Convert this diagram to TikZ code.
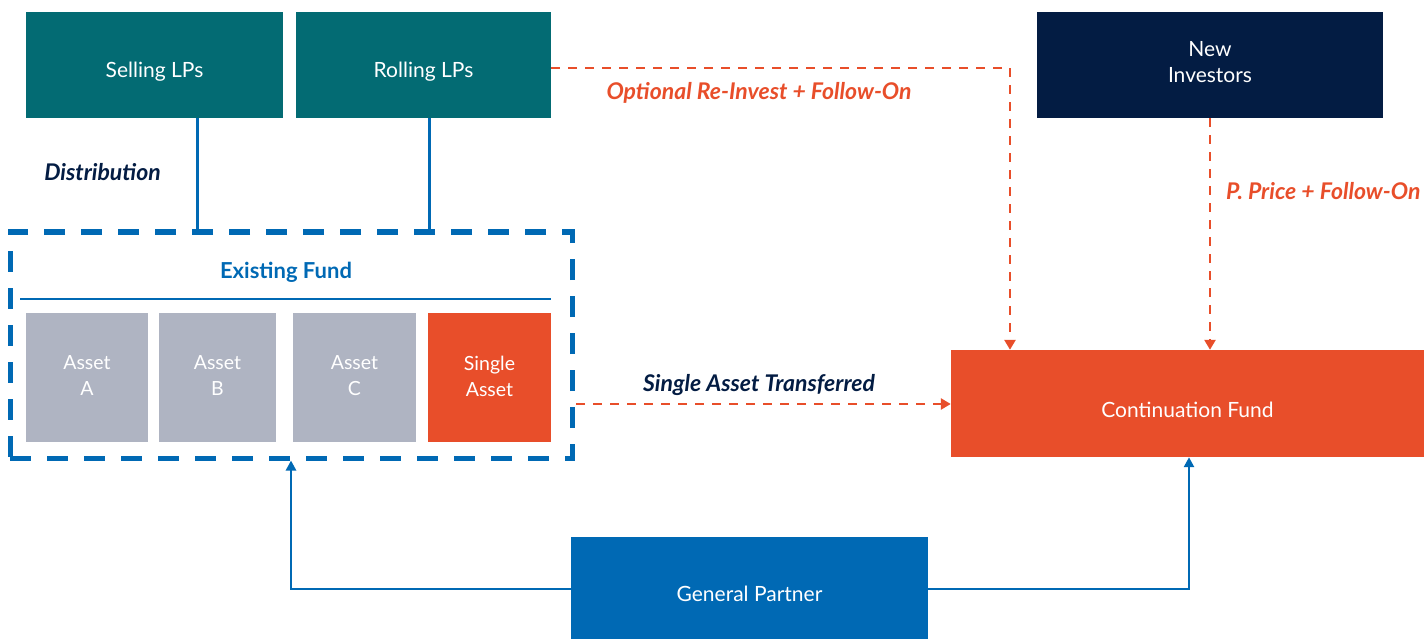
\documentclass[tikz,border=0pt]{standalone}
\usepackage{fontspec}
\setmainfont{Lato}
\usetikzlibrary{arrows.meta}
\definecolor{teal}{HTML}{036B73}
\definecolor{navy}{HTML}{031C43}
\definecolor{cblue}{HTML}{0069B4}
\definecolor{corange}{HTML}{E84E2A}
\definecolor{cgrey}{HTML}{AFB4C2}
\tikzset{
  box/.style={draw=none, inner sep=0pt},
  boxtext/.style={inner sep=0pt, align=center, text=white, font=\fontsize{21}{26}\selectfont},
  assettext/.style={boxtext, font=\fontsize{19.5}{26}\selectfont},
  lbl/.style={font=\fontsize{23}{27}\selectfont\bfseries\itshape, inner sep=0pt},
  solidlink/.style={draw=cblue, line width=3pt},
  gplink/.style={draw=cblue, line width=2.5pt, -{Triangle[length=10pt,width=10pt]}},
  optlink/.style={draw=corange, line width=2.6pt, dash pattern=on 9pt off 8pt, -{Triangle[length=10pt,width=11pt]}},
}
\begin{document}
\begin{tikzpicture}[x=1pt, y=-1pt]
\useasboundingbox (0,0) rectangle (1424,639);
% top row
\node[box, fill=teal, minimum width=257pt, minimum height=106pt,
  label={[boxtext, yshift=-7pt]center:Selling LPs}] (sell) at (154.5,65) {};
\node[box, fill=teal, minimum width=255pt, minimum height=106pt,
  label={[boxtext, yshift=-7pt]center:Rolling LPs}] (roll) at (423.5,65) {};
\node[box, fill=navy, minimum width=346pt, minimum height=106pt,
  label={[boxtext, yshift=2.5pt]center:New\\Investors}] (newinv) at (1210,65) {};
% existing fund frame
\node[draw=cblue, line width=5pt, dash pattern=on 21pt off 16pt, minimum width=562pt, minimum height=226pt, inner sep=0pt] (fund) at (291,345) {};
\node[text=cblue, font=\fontsize{22}{26}\selectfont\bfseries, inner sep=0pt] (fundlbl) at (286,272) {Existing Fund};
\coordinate (ruleL) at (20,299);
\coordinate (ruleR) at (551,299);
\draw[cblue, line width=2pt] (ruleL) -- (ruleR);
% assets
\node[box, fill=cgrey, minimum width=122pt, minimum height=129pt,
  label={[assettext, yshift=1.5pt]center:Asset\\A}] (assetA) at (87,377.5) {};
\node[box, fill=cgrey, minimum width=117pt, minimum height=129pt,
  label={[assettext, yshift=1.5pt]center:Asset\\B}] (assetB) at (217.5,377.5) {};
\node[box, fill=cgrey, minimum width=123pt, minimum height=129pt,
  label={[assettext, yshift=1.5pt]center:Asset\\C}] (assetC) at (354.5,377.5) {};
\node[box, fill=corange, minimum width=123pt, minimum height=129pt,
  label={[assettext, yshift=1.5pt]center:Single\\Asset}] (single) at (489.5,377.5) {};
% continuation fund and GP
\node[box, fill=corange, minimum width=473pt, minimum height=107pt,
  label={[boxtext, yshift=-6pt]center:Continuation Fund}] (cont) at (1187.5,403.5) {};
\node[box, fill=cblue, minimum width=357pt, minimum height=102pt,
  label={[boxtext, yshift=-6pt]center:General Partner}] (gp) at (749.5,588) {};
% LP links into the fund
\draw[solidlink] (sell.south -| 197,0) -- (fund.north -| 197,0);
\draw[solidlink] (roll.south -| 429,0) -- (fund.north -| 429,0);
\node[lbl, text=navy] (distlbl) at (102.5,172) {Distribution};
% re-invest path
\coordinate (bend) at (1010,68);
\draw[optlink] (roll.east |- 0,68) -- (bend) -- (cont.north -| bend);
\node[lbl, text=corange] (optlbl) at (759,93) {Optional Re-Invest + Follow-On};
% new investors
\draw[optlink] (newinv.south) -- (cont.north -| newinv.south);
\node[lbl, text=corange, anchor=west] (pplbl) at (1226,191) {P. Price + Follow-On};
% asset transfer
\coordinate (xfer) at (576,404);
\draw[optlink] (xfer) -- (cont.west |- xfer);
\node[lbl, text=navy] (xferlbl) at (759,385) {Single Asset Transferred};
% general partner
\coordinate (gpL) at (291,589);
\coordinate (gpR) at (1189,589);
\draw[gplink] (gp.west |- gpL) -- (gpL) -- (fund.south -| gpL);
\draw[gplink] (gp.east |- gpR) -- (gpR) -- (cont.south -| gpR);
\end{tikzpicture}
\end{document}
